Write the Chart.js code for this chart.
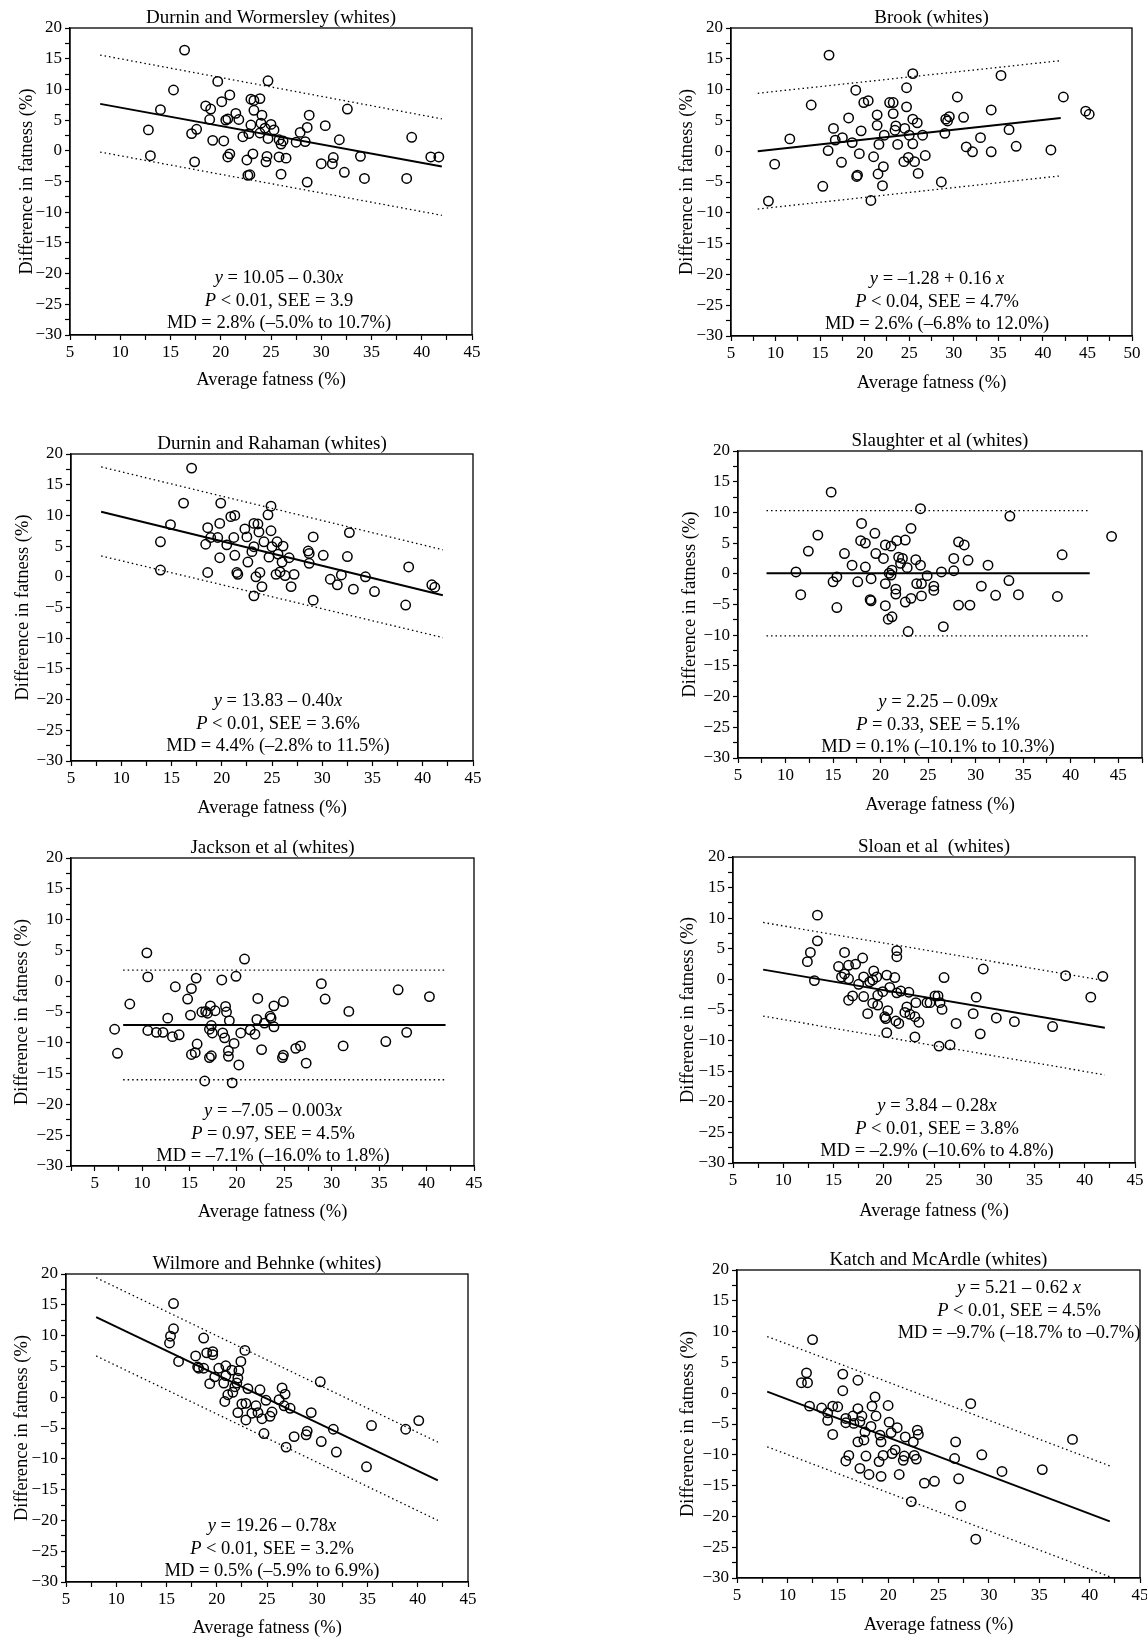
<!DOCTYPE html>
<html><head><meta charset="utf-8">
<script src="https://cdn.jsdelivr.net/npm/chart.js@4.4.1/dist/chart.umd.min.js"></script>
<style>
html,body{margin:0;padding:0;background:#fff;overflow:hidden;}
#page{position:relative;width:1147px;height:1639px;overflow:hidden;background:#fff;}
#page canvas{position:absolute;}
.note{position:absolute;font-family:"Liberation Serif","Times New Roman",serif;font-size:18.5px;line-height:22.5px;color:#000;text-align:center;white-space:nowrap;transform:translateX(-50%);}
</style></head><body><div id="page"></div>
<script>
// ---------- DATA ----------
const lineX = [8, 42];
const titles = ["Durnin and Wormersley (whites)", "Brook (whites)", "Durnin and Rahaman (whites)", "Slaughter et al (whites)",
  "Jackson et al (whites)", "Sloan et al  (whites)", "Wilmore and Behnke (whites)", "Katch and McArdle (whites)"];
const xTitle = "Average fatness (%)";
const yTitle = "Difference in fatness (%)";
const xMins = [5, 5, 5, 5, 2.5, 5, 5, 5];
const xMaxs = [45, 50, 45, 47.5, 45, 45, 45, 45];
const yMin = -30, yMax = 20;

// 1 Durnin and Wormersley
const dwX = [16.4,15.3,14.0,12.8,13.0,17.1,17.6,17.4,19.7,18.5,19.0,18.9,19.2,20.1,20.9,20.3,20.5,20.7,20.9,20.7,21.5,21.8,22.2,22.6,22.7,22.9,23.0,23.3,23.3,23.0,22.8,23.2,23.9,24.1,24.0,24.4,23.9,24.7,25.0,25.3,24.7,24.6,24.5,25.8,26.0,26.2,25.8,26.0,26.5,27.5,27.9,28.6,28.4,28.8,28.6,30.0,30.4,31.1,31.2,31.8,32.6,32.3,33.9,34.3,38.5,39.0,40.9,41.7];
const dwY = [16.4,9.9,6.7,3.4,-0.8,2.8,3.5,-1.8,11.3,7.3,6.8,5.1,1.7,8.0,9.1,1.6,5.0,5.2,-0.5,-1.0,6.1,5.1,2.3,-1.5,-4.0,-3.9,8.4,8.2,6.6,4.2,2.8,-0.5,8.5,5.8,4.5,3.7,2.9,11.4,4.3,3.4,2.0,-0.9,-1.8,1.8,1.1,1.6,-1.0,-3.8,-1.2,1.4,3.0,3.8,1.5,5.8,-5.1,-2.1,4.1,-2.1,-1.1,1.8,6.8,-3.5,-0.9,-4.5,-4.5,2.2,-1.0,-1.0];
const dwFit = [7.65, -2.55], dwUpper = [15.6, 5.2], dwLower = [-0.2, -10.5];

// 2 Brook
const brX = [16.0,14.0,11.6,9.9,9.2,15.3,15.9,16.5,16.7,17.5,17.4,18.2,18.6,19.0,19.6,19.4,19.1,19.2,19.9,20.4,21.0,20.7,21.4,21.4,21.6,21.5,22.0,22.1,22.2,22.8,23.2,23.2,23.4,23.5,23.7,24.4,24.5,24.7,24.7,24.9,25.0,25.4,25.4,25.4,25.6,25.9,26.0,26.5,26.8,28.6,29.0,29.1,29.3,29.5,30.4,31.1,31.4,32.1,33.0,34.2,34.2,35.3,36.2,37.0,40.9,42.3,44.8,45.2];
const brY = [15.6,7.5,2.0,-2.1,-8.1,-5.7,0.1,3.7,1.8,2.2,-1.8,5.4,1.4,9.9,3.3,-0.4,-4.1,-3.9,7.9,8.2,-0.9,-8.0,5.9,4.2,1.1,-3.7,-5.6,-2.5,2.6,7.9,7.9,6.1,3.4,4.1,1.1,-1.7,3.7,7.2,10.3,-1.0,2.6,12.6,5.2,1.2,-1.7,4.6,-3.6,2.6,-0.7,-5.0,2.9,5.2,4.9,5.6,8.8,5.5,0.7,-0.1,2.2,6.7,-0.1,12.3,3.5,0.8,0.2,8.8,6.5,6.0];
const brFit = [0.0, 5.4], brUpper = [9.4, 14.7], brLower = [-9.4, -4.0];

// 3 Durnin and Rahaman
const drX = [17.0,16.2,14.9,13.9,13.9,18.6,18.4,18.9,18.6,19.6,19.8,19.9,19.8,20.5,20.9,21.3,21.2,21.3,21.5,21.6,22.3,22.5,22.6,23.0,23.2,23.6,23.7,23.2,23.4,23.2,23.8,24.0,24.2,24.6,24.9,24.9,24.7,25.0,25.5,25.6,25.4,25.8,26.0,26.1,26.3,26.7,26.9,27.2,28.6,28.7,28.7,29.1,29.1,30.1,30.8,31.5,31.9,32.7,32.5,33.1,34.3,35.2,38.3,38.6,40.9,41.2];
const drY = [17.7,12.0,8.5,5.7,1.1,8.0,5.3,6.4,0.7,6.4,8.7,12.0,3.1,5.2,9.8,10.0,6.4,3.5,0.7,0.4,7.8,6.5,2.4,4.1,8.7,8.6,7.3,4.9,0.0,-3.1,0.7,-1.6,5.7,10.1,11.5,7.5,3.2,4.9,5.7,3.7,0.4,0.8,2.4,5.0,0.2,3.1,-1.6,0.4,4.2,3.8,2.2,6.5,-3.8,3.5,-0.4,-1.3,0.3,7.2,3.3,-2.0,0.0,-2.4,-4.6,1.6,-1.3,-1.7];
const drFit = [10.6, -3.0], drUpper = [17.9, 4.4], drLower = [3.4, -9.9];

// 4 Slaughter et al
const slX = [14.8,13.4,12.4,11.1,11.6,15.0,15.4,15.4,16.2,17.0,17.6,18.0,17.9,18.4,18.4,19.0,18.9,19.0,19.4,19.5,20.3,20.5,20.5,20.5,20.8,21.2,21.1,21.2,21.1,20.9,21.7,21.6,21.6,21.9,22.3,22.1,22.6,22.6,22.8,22.9,23.2,23.2,23.7,23.8,24.2,24.2,24.3,24.3,24.9,25.6,25.6,26.4,26.6,27.7,27.7,28.2,28.2,28.8,29.2,29.4,30.6,31.3,32.1,33.6,33.5,34.5,38.6,39.1,44.3];
const slY = [13.3,6.3,3.7,0.3,-3.4,-1.3,-0.5,-5.5,3.3,1.4,-1.3,8.2,5.4,5.0,1.1,-0.8,-4.2,-4.4,6.6,3.3,2.5,4.7,-1.6,-5.2,-7.4,-7.0,4.5,0.6,-0.2,0.1,5.4,-2.5,-3.3,2.7,2.5,1.7,-4.6,5.5,1.0,-9.4,7.4,-4.0,2.3,-1.6,10.6,1.4,-1.6,-3.6,-0.3,-2.0,-2.7,0.3,-8.6,2.5,0.5,5.2,-5.1,4.7,2.2,-5.1,-2.0,1.4,-3.5,9.4,-1.1,-3.4,-3.7,3.1,6.1];
const slFit = [0.1, 0.1], slUpper = [10.3, 10.3], slLower = [-10.1, -10.1];

// 5 Jackson et al
const jaX = [10.5,10.6,10.6,8.7,7.1,7.4,11.5,12.2,12.7,13.2,13.5,13.9,14.8,15.2,15.1,15.2,15.6,15.7,15.8,16.3,16.7,16.9,16.6,17.2,17.1,17.3,17.4,17.1,17.3,17.7,18.4,18.5,18.8,18.9,18.7,19.2,19.1,19.1,19.5,19.7,19.9,20.2,20.4,20.8,21.4,21.9,22.2,22.1,22.6,22.9,23.5,23.6,23.9,23.9,24.8,24.9,24.9,26.2,26.7,27.3,28.9,29.3,31.2,31.8,35.7,37.0,37.9,40.3];
const jaY = [4.6,0.7,-8.0,-3.7,-7.8,-11.7,-8.3,-8.3,-6.0,-9.0,-0.9,-8.7,-2.9,-1.2,-5.5,-11.9,-11.6,0.5,-10.2,-5.0,-4.9,-5.2,-16.2,-4.0,-7.8,-7.2,-8.4,-12.4,-12.1,-4.8,0.2,-8.4,-4.1,-5.0,-9.2,-6.4,-11.3,-12.2,-16.5,-10.1,0.8,-13.6,-8.4,3.6,-7.9,-8.6,-2.8,-6.2,-11.1,-6.8,-5.7,-6.0,-4.0,-7.4,-12.4,-12.0,-3.3,-10.9,-10.5,-13.3,-0.4,-2.9,-10.5,-4.9,-9.8,-1.4,-8.3,-2.5];
const jaFit = [-7.1, -7.1], jaUpper = [1.8, 1.8], jaLower = [-16.0, -16.0];

// 6 Sloan et al
const soX = [13.4,13.4,12.7,12.4,13.1,15.5,15.8,16.1,16.1,16.5,16.5,16.5,16.9,17.2,17.5,17.9,18.0,18.0,18.4,18.6,18.9,19.0,18.9,19.3,19.4,19.4,19.9,20.1,20.2,20.3,20.4,20.3,20.6,21.1,21.3,21.3,21.3,21.2,21.5,21.7,22.1,22.3,22.5,22.6,23.1,23.2,23.1,23.5,24.3,24.6,25.1,25.4,25.8,25.6,25.5,26.0,26.6,27.2,28.9,29.2,29.6,29.9,31.2,33.0,36.8,38.1,40.6,41.8];
const soY = [10.5,6.3,4.4,2.9,-0.2,2.1,0.4,0.9,4.4,2.3,0.1,-3.4,-2.7,2.5,-0.8,3.5,0.4,-2.8,-5.6,-0.4,-0.1,1.4,-3.9,0.4,-2.6,-4.2,-2.0,-6.1,-6.4,0.7,-5.1,-8.7,-1.3,0.3,-2.2,4.7,3.7,-6.8,-7.2,-1.9,-5.4,-4.5,-2.1,-5.7,-6.1,-3.8,-9.4,-7.0,-3.8,-3.8,-2.7,-2.7,-4.9,-3.8,-10.9,0.3,-10.7,-7.2,-5.6,-2.9,-8.9,1.7,-6.3,-6.9,-7.7,0.6,-2.9,0.5];
const soFit = [1.6, -7.9], soUpper = [9.3, -0.2], soLower = [-6.0, -15.6];

// 7 Wilmore and Behnke
const wbX = [15.7,15.7,15.4,15.3,16.2,17.9,18.1,18.2,18.7,18.7,19.0,19.6,19.6,19.3,19.8,20.2,20.7,20.9,20.9,20.8,21.1,21.5,21.6,21.8,22.0,22.1,22.2,22.4,22.8,22.1,22.5,22.9,22.9,23.1,23.5,23.9,24.1,24.3,24.5,24.7,24.9,25.3,25.5,26.2,26.5,26.7,26.8,26.9,27.3,27.7,28.9,29.0,29.4,30.3,30.4,31.6,31.9,34.9,35.4,38.8,40.1];
const wbY = [15.2,11.1,9.9,8.8,5.8,6.7,4.9,4.7,4.7,9.6,7.2,7.4,6.9,2.2,3.3,4.7,2.3,5.1,3.5,-0.7,0.4,4.4,0.8,1.7,2.3,3.1,4.3,5.8,7.6,-2.5,-1.1,-1.0,-3.7,1.4,-2.6,-1.4,-2.5,1.2,-3.5,-5.9,-0.5,-3.1,-2.4,-0.4,1.5,-1.4,0.5,-8.1,-1.8,-6.4,-6.1,-5.5,-2.5,2.5,-7.2,-5.2,-8.9,-11.3,-4.6,-5.2,-3.8];
const wbFit = [13.0, -13.5], wbUpper = [19.4, -7.3], wbLower = [6.7, -20.0];

// 8 Katch and McArdle
const kmX = [12.5,11.9,11.4,12.0,12.2,13.4,14.0,14.0,14.5,14.5,15.0,15.5,15.5,15.8,15.8,15.8,16.1,16.5,16.6,17.0,17.0,17.0,17.2,17.4,17.2,17.6,17.7,17.8,18.1,18.3,18.4,18.7,18.8,19.2,19.1,19.3,19.3,19.5,20.0,20.1,20.3,20.4,20.7,20.9,21.1,21.5,21.6,21.7,22.3,22.5,22.6,22.8,22.9,23.0,23.6,24.6,26.7,26.6,27.0,27.2,28.2,28.7,29.3,31.3,35.3,38.3];
const kmY = [8.7,3.3,1.7,1.7,-2.1,-2.4,-3.2,-4.4,-2.1,-6.7,-2.2,3.1,0.4,-4.1,-4.8,-11.0,-10.1,-3.7,-4.9,2.1,-2.5,-7.9,-4.6,-3.7,-12.2,-7.6,-6.3,-10.2,-13.2,-5.4,-2.1,-0.6,-3.7,-6.8,-11.1,-7.9,-13.5,-10.1,-2.0,-4.7,-6.4,-9.8,-9.2,-5.6,-13.2,-10.9,-10.2,-7.1,-17.6,-7.9,-10.1,-10.7,-6.0,-6.7,-14.6,-14.3,-7.9,-10.6,-13.9,-18.3,-1.7,-23.7,-10.0,-12.7,-12.4,-7.5];
const kmFit = [0.25, -20.8], kmUpper = [9.2, -11.8], kmLower = [-8.7, -29.8];

// Equation / statistics text printed on each panel
const notes = [
  ["<i>y</i> = 10.05 \u2013 0.30<i>x</i>", "<i>P</i> &lt; 0.01, SEE = 3.9", "MD = 2.8% (\u20135.0% to 10.7%)"],
  ["<i>y</i> = \u20131.28 + 0.16 <i>x</i>", "<i>P</i> &lt; 0.04, SEE = 4.7%", "MD = 2.6% (\u20136.8% to 12.0%)"],
  ["<i>y</i> = 13.83 \u2013 0.40<i>x</i>", "<i>P</i> &lt; 0.01, SEE = 3.6%", "MD = 4.4% (\u20132.8% to 11.5%)"],
  ["<i>y</i> = 2.25 \u2013 0.09<i>x</i>", "<i>P</i> = 0.33, SEE = 5.1%", "MD = 0.1% (\u201310.1% to 10.3%)"],
  ["<i>y</i> = \u20137.05 \u2013 0.003<i>x</i>", "<i>P</i> = 0.97, SEE = 4.5%", "MD = \u20137.1% (\u201316.0% to 1.8%)"],
  ["<i>y</i> = 3.84 \u2013 0.28<i>x</i>", "<i>P</i> &lt; 0.01, SEE = 3.8%", "MD = \u20132.9% (\u201310.6% to 4.8%)"],
  ["<i>y</i> = 19.26 \u2013 0.78<i>x</i>", "<i>P</i> &lt; 0.01, SEE = 3.2%", "MD = 0.5% (\u20135.9% to 6.9%)"],
  ["<i>y</i> = 5.21 \u2013 0.62 <i>x</i>", "<i>P</i> &lt; 0.01, SEE = 4.5%", "MD = \u20139.7% (\u201318.7% to \u20130.7%)"]
];

const seriesX = [dwX, brX, drX, slX, jaX, soX, wbX, kmX];
const seriesY = [dwY, brY, drY, slY, jaY, soY, wbY, kmY];
const fits = [dwFit, brFit, drFit, slFit, jaFit, soFit, wbFit, kmFit];
const uppers = [dwUpper, brUpper, drUpper, slUpper, jaUpper, soUpper, wbUpper, kmUpper];
const lowers = [dwLower, brLower, drLower, slLower, jaLower, soLower, wbLower, kmLower];

// ---------- LAYOUT (plot-area rectangles in page pixels) ----------
const boxes = [
  {L:70, T:28, R:472, B:335, yo:43, xo:45, nx:279, ny:266},
  {L:731,T:28, R:1132,B:336, yo:44, xo:47, nx:937, ny:267},
  {L:71, T:454,R:473, B:761, yo:48, xo:47, nx:278, ny:689},
  {L:738,T:451,R:1142,B:758, yo:48, xo:47, nx:938, ny:690},
  {L:71, T:858,R:474, B:1166,yo:49, xo:46, nx:273, ny:1099},
  {L:733,T:857,R:1135,B:1163,yo:45, xo:48, nx:937, ny:1094},
  {L:66, T:1274,R:468,B:1582,yo:44, xo:46, nx:272, ny:1514},
  {L:737,T:1270,R:1140,B:1578,yo:49, xo:47, nx:1019,ny:1276}
];
const FONT = '"Liberation Serif","Times New Roman",serif';
const YW = 70, TH = 30, XH = 58, RP = 14;

const framePlugin = {
  id: 'frame',
  afterDraw(chart) {
    const a = chart.chartArea, ctx = chart.ctx;
    ctx.save();
    ctx.strokeStyle = '#000';
    ctx.lineWidth = 1.3;
    ctx.strokeRect(a.left, a.top, a.right - a.left, a.bottom - a.top);
    ctx.restore();
  }
};

function fmt(v) {
  if (Math.abs(v % 5) > 1e-6) return '';
  return v < 0 ? '\u2212' + Math.abs(v) : String(v);
}
function seg(ys) { return [{x: lineX[0], y: ys[0]}, {x: lineX[1], y: ys[1]}]; }

const page = document.getElementById('page');
boxes.forEach((b, i) => {
  const cv = document.createElement('canvas');
  const w = b.R - b.L + YW + RP, h = b.B - b.T + TH + XH;
  cv.width = w; cv.height = h;
  cv.style.left = (b.L - YW) + 'px';
  cv.style.top = (b.T - TH) + 'px';
  cv.style.width = w + 'px'; cv.style.height = h + 'px';
  page.appendChild(cv);

  const pts = seriesX[i].map((x, k) => ({x: x, y: seriesY[i][k]}));
  new Chart(cv.getContext('2d'), {
    type: 'scatter',
    data: {
      datasets: [
        {data: pts, pointRadius: 4.7, pointHoverRadius: 4.7, pointBorderWidth: 1.5,
         pointBorderColor: '#000', pointBackgroundColor: 'rgba(255,255,255,0)', showLine: false, order: 1},
        {type: 'line', data: seg(fits[i]), borderColor: '#000', borderWidth: 1.9, pointRadius: 0, fill: false, order: 2},
        {type: 'line', data: seg(uppers[i]), borderColor: '#000', borderWidth: 1.3, borderDash: [1.5, 3], pointRadius: 0, fill: false, order: 3},
        {type: 'line', data: seg(lowers[i]), borderColor: '#000', borderWidth: 1.3, borderDash: [1.5, 3], pointRadius: 0, fill: false, order: 3}
      ]
    },
    options: {
      responsive: false, animation: false, devicePixelRatio: 1,
      layout: {padding: {left: 0, right: RP, top: 0, bottom: 0}},
      plugins: {
        legend: {display: false}, tooltip: {enabled: false},
        title: {display: true, fullSize: false, text: titles[i], color: '#000',
                font: {family: FONT, size: 19, weight: 'normal', lineHeight: 1},
                padding: {top: 11, bottom: 0}}
      },
      scales: {
        x: {type: 'linear', min: xMins[i], max: xMaxs[i],
            ticks: {stepSize: 2.5, autoSkip: false, maxRotation: 0, callback: fmt, color: '#000',
                    font: {family: FONT, size: 17}, padding: 2},
            grid: {drawOnChartArea: false, drawTicks: true, tickLength: 5, color: '#000', tickWidth: 1.2},
            border: {color: '#000', width: 1.3},
            title: {display: true, text: xTitle, color: '#000', font: {family: FONT, size: 18.5, lineHeight: 1},
                    padding: {top: 0, bottom: XH - b.xo - 9}},
            afterFit: s => { s.height = XH; }},
        y: {type: 'linear', min: yMin, max: yMax,
            ticks: {stepSize: 2.5, autoSkip: false, callback: fmt, color: '#000',
                    font: {family: FONT, size: 17}, padding: 3},
            grid: {drawOnChartArea: false, drawTicks: true, tickLength: 5, color: '#000', tickWidth: 1.2},
            border: {color: '#000', width: 1.3},
            title: {display: true, text: yTitle, color: '#000', font: {family: FONT, size: 18.5, lineHeight: 1},
                    padding: {top: YW - b.yo - 9, bottom: 0}},
            afterFit: s => { s.width = YW; }}
      }
    },
    plugins: [framePlugin]
  });

  const n = document.createElement('div');
  n.className = 'note';
  n.style.left = b.nx + 'px';
  n.style.top = b.ny + 'px';
  n.innerHTML = notes[i].join('<br>');
  page.appendChild(n);
});
</script>
</body></html>
